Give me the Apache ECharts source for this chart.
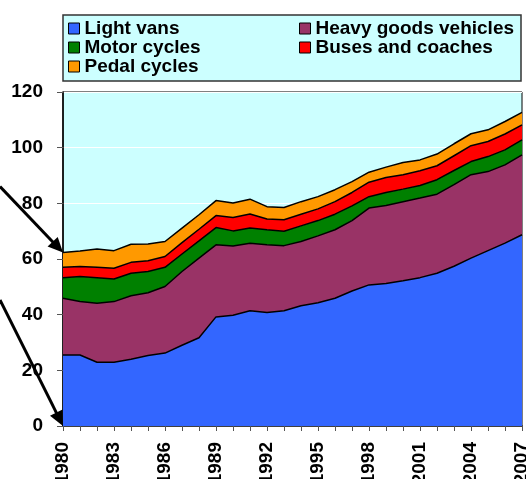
<!DOCTYPE html>
<html>
<head>
<meta charset="utf-8">
<script src="https://cdn.jsdelivr.net/npm/echarts@6/dist/echarts.min.js"></script>
<style>
  html, body { margin: 0; padding: 0; background: #fff; }
  #main { width: 526px; height: 479px; }
</style>
</head>
<body>
<div id="main"></div>
<script>
// years on the x axis
const years = ['1980', '1981', '1982', '1983', '1984', '1985', '1986', '1987', '1988', '1989',
  '1990', '1991', '1992', '1993', '1994', '1995', '1996', '1997', '1998', '1999',
  '2000', '2001', '2002', '2003', '2004', '2005', '2006', '2007'];

// traffic per vehicle type (stacked)
const lightVans = [25.5, 25.5, 22.9, 22.9, 24.0, 25.3, 26.2, 29.0, 31.7, 39.2,
  39.8, 41.4, 40.8, 41.4, 43.2, 44.3, 45.9, 48.5, 50.7, 51.2,
  52.2, 53.3, 54.9, 57.4, 60.3, 63.0, 65.7, 68.7];
const heavyGoods = [20.4, 19.2, 21.2, 21.8, 22.8, 22.6, 23.9, 26.5, 28.6, 25.9,
  24.9, 24.3, 24.3, 23.4, 23.1, 24.0, 24.6, 25.3, 27.6, 28.0,
  28.4, 28.6, 28.4, 29.3, 30.0, 28.4, 28.1, 28.7];
const motorCycles = [7.4, 9.0, 9.2, 8.1, 8.1, 7.6, 6.9, 6.3, 6.2, 6.2,
  5.4, 5.4, 5.4, 5.2, 5.6, 5.5, 5.6, 5.3, 4.1, 4.7,
  4.5, 4.5, 5.2, 5.1, 4.7, 5.4, 5.4, 5.4];
const buses = [3.7, 3.6, 3.7, 3.9, 3.9, 3.9, 3.9, 4.1, 4.2, 4.3,
  4.8, 5.1, 3.9, 4.1, 4.2, 4.2, 4.5, 4.8, 5.2, 5.4,
  5.2, 5.3, 5.0, 5.3, 5.7, 5.4, 5.7, 5.4];
const pedalCycles = [5.3, 5.6, 6.6, 6.3, 6.5, 6.0, 5.4, 5.2, 5.2, 5.4,
  5.2, 5.3, 4.4, 4.4, 4.5, 4.4, 4.3, 3.9, 3.6, 3.7,
  4.4, 3.9, 4.2, 4.3, 4.3, 4.2, 4.5, 4.5];

const font = '"Liberation Sans", Arial, sans-serif';

function areaSeries(name, data, color) {
  return {
    name: name,
    type: 'line',
    stack: 'total',
    data: data,
    symbol: 'none',
    color: color,
    lineStyle: {color: '#000', width: 1.5},
    areaStyle: {color: color, opacity: 1}
  };
}

const legendCommon = {
  orient: 'vertical',
  top: 19,
  icon: 'rect',
  itemWidth: 11,
  itemHeight: 11,
  itemGap: 0,
  padding: 0,
  itemStyle: {borderColor: '#000', borderWidth: 1},
  textStyle: {fontFamily: font, fontWeight: 'bold', fontSize: 19, color: '#000', lineHeight: 17}
};

const legendBox = {
  type: 'rect',
  z: 0,
  shape: {x: 63, y: 15, width: 458, height: 66},
  style: {fill: '#ccffff', stroke: '#333', lineWidth: 1.5}
};

let myChart = echarts.init(document.getElementById('main'));
myChart.setOption({
  animation: false,
  textStyle: {fontFamily: font},
  grid: {
    left: 63, right: 4, top: 92, bottom: 53,
    outerBoundsMode: 'none',
    containLabel: false,
    show: true,
    backgroundColor: '#ccffff',
    borderColor: '#000',
    borderWidth: 1
  },
  graphic: [legendBox],
  legend: [
    Object.assign({}, legendCommon, {left: 68, data: ['Light vans', 'Motor cycles', 'Pedal cycles']}),
    Object.assign({}, legendCommon, {left: 299, data: ['Heavy goods vehicles', 'Buses and coaches']})
  ],
  xAxis: {
    type: 'category',
    data: years,
    boundaryGap: false,
    axisLine: {lineStyle: {color: '#000', width: 1.5}},
    axisTick: {interval: 0, length: 5, lineStyle: {color: '#555'}},
    axisLabel: {
      interval: 2, rotate: 90, margin: 16,
      fontFamily: font, fontWeight: 'bold', fontSize: 19, color: '#000'
    },
    splitLine: {show: false}
  },
  yAxis: {
    type: 'value',
    min: 0, max: 120, interval: 20,
    axisLine: {show: true, lineStyle: {color: '#000', width: 1.5}},
    axisTick: {show: true, length: 6, lineStyle: {color: '#555'}},
    axisLabel: {margin: 20, fontFamily: font, fontWeight: 'bold', fontSize: 19, color: '#000'},
    splitLine: {lineStyle: {color: '#fff', width: 1}}
  },
  series: [
    areaSeries('Light vans', lightVans, '#3366ff'),
    areaSeries('Heavy goods vehicles', heavyGoods, '#993366'),
    areaSeries('Motor cycles', motorCycles, '#008000'),
    areaSeries('Buses and coaches', buses, '#ff0000'),
    areaSeries('Pedal cycles', pedalCycles, '#ff9900')
  ]
});

// two annotation arrows pointing at the 1980 values
function arrow(tip, dx, dy) {
  const len = Math.sqrt(dx * dx + dy * dy);
  const ux = dx / len, uy = dy / len;
  const headLen = 15, headW = 7;
  const bx = tip[0] - ux * headLen, by = tip[1] - uy * headLen;
  return [{
    type: 'line',
    shape: {x1: tip[0] - dx, y1: tip[1] - dy, x2: bx + ux * 2, y2: by + uy * 2},
    style: {stroke: '#000', lineWidth: 3},
    z: 10
  }, {
    type: 'polygon',
    shape: {points: [tip, [bx - uy * headW, by + ux * headW], [bx + uy * headW, by - ux * headW]]},
    style: {fill: '#000'},
    z: 10
  }];
}

let topOf1980 = lightVans[0] + heavyGoods[0] + motorCycles[0] + buses[0] + pedalCycles[0];
let tip1 = myChart.convertToPixel({xAxisIndex: 0, yAxisIndex: 0}, [0, topOf1980]);
let tip2 = myChart.convertToPixel({xAxisIndex: 0, yAxisIndex: 0}, [0, 0]);
myChart.setOption({
  graphic: [legendBox].concat(arrow(tip1, 63, 66), arrow(tip2, 63, 126))
});
</script>
</body>
</html>
